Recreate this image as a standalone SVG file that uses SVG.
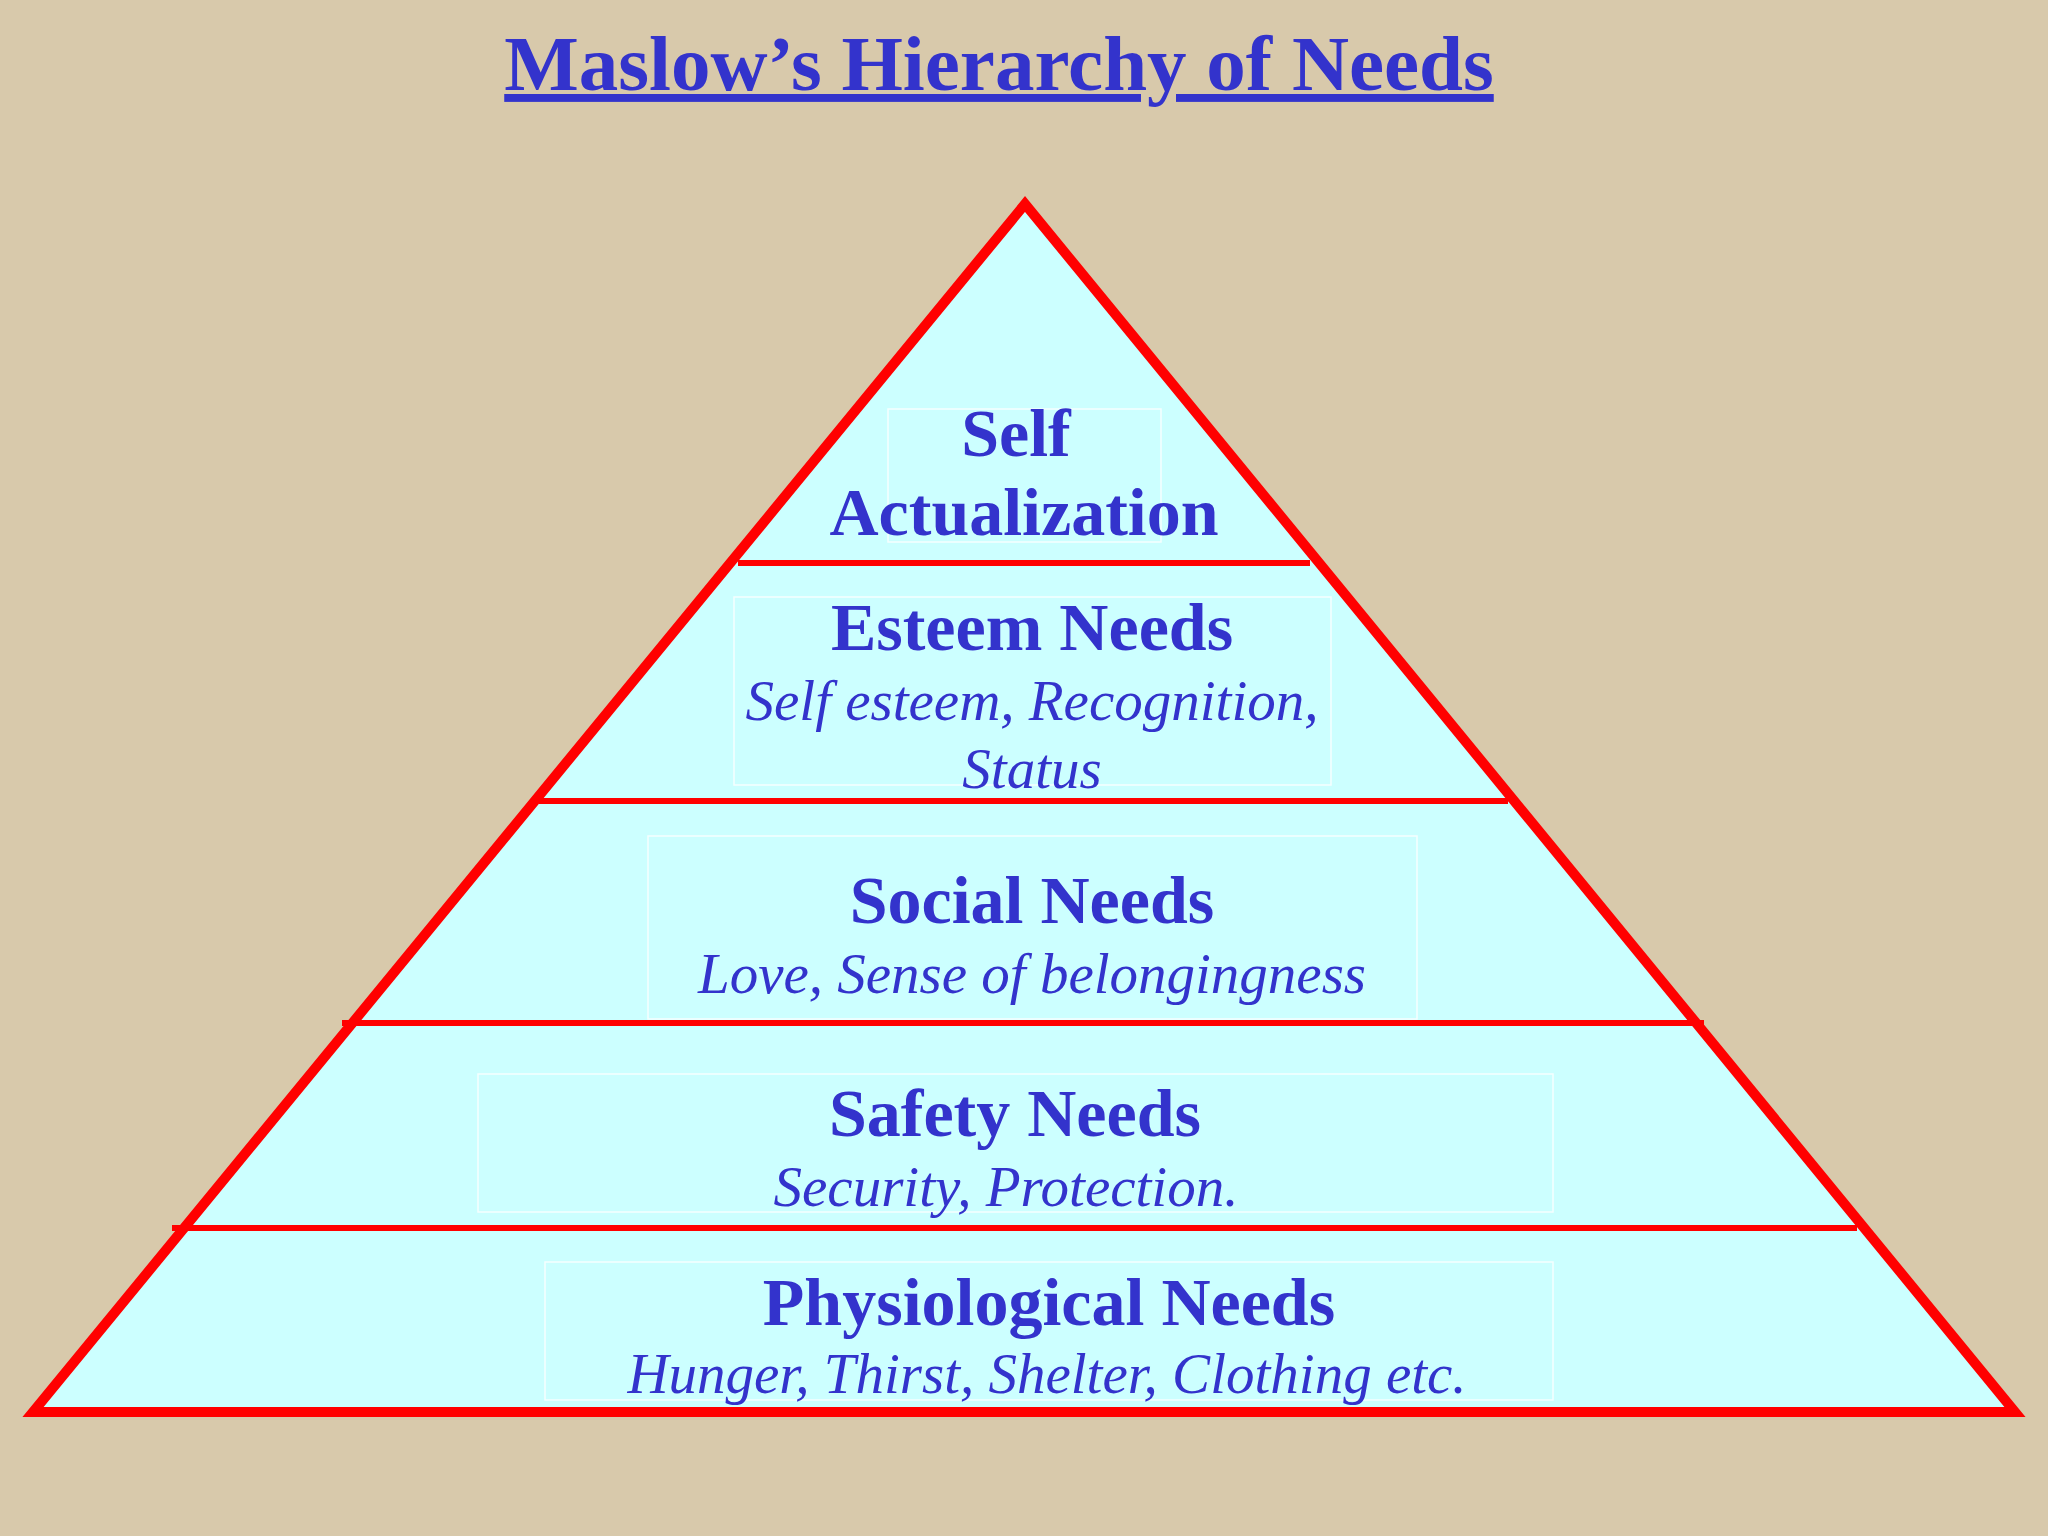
<svg xmlns="http://www.w3.org/2000/svg" width="2048" height="1536" viewBox="0 0 2048 1536">
<style>
.h{font-family:"Liberation Serif",serif;font-weight:bold;fill:#3333cc;text-anchor:middle;font-size:68px}
.s{font-family:"Liberation Serif",serif;font-style:italic;fill:#3333cc;text-anchor:middle;font-size:57px}
.b{fill:none;stroke:#ffffff;stroke-width:1.5;opacity:0.8}
.r{stroke:#ff0000;stroke-width:6}
</style>
<rect width="2048" height="1536" fill="#d8c9ab"/>
<text x="999" y="90" class="h" style="font-size:79px;text-decoration:underline">Maslow’s Hierarchy of Needs</text>
<g id="pyramid">
<polygon points="1025,204 33,1412 2015,1412" fill="#ccffff" stroke="#ff0000" stroke-width="10" stroke-linejoin="miter"/>
</g>
<g id="connectors">
<line class="r" x1="738" y1="563" x2="1310" y2="563"/>
<line class="r" x1="539" y1="801" x2="1508" y2="801"/>
<line class="r" x1="342" y1="1023" x2="1704" y2="1023"/>
<line class="r" x1="172" y1="1228" x2="1857" y2="1228"/>
</g>
<g id="self">
<rect class="b" x="888" y="409" width="273" height="133"/>
<text class="h" x="1016" y="456">Self</text>
<text class="h" x="1024" y="535">Actualization</text>
</g>
<g id="esteem">
<rect class="b" x="734" y="597" width="597" height="188"/>
<text class="h" x="1032" y="650">Esteem Needs</text>
<text class="s" x="1032" y="720">Self esteem, Recognition,</text>
<text class="s" x="1032" y="788">Status</text>
</g>
<g id="social">
<rect class="b" x="648" y="836" width="769" height="183"/>
<text class="h" x="1032" y="923">Social Needs</text>
<text class="s" x="1032" y="993">Love, Sense of belongingness</text>
</g>
<g id="safety">
<rect class="b" x="478" y="1074" width="1075" height="138"/>
<text class="h" x="1015" y="1136">Safety Needs</text>
<text class="s" x="1006" y="1206">Security, Protection.</text>
</g>
<g id="physio">
<rect class="b" x="545" y="1262" width="1008" height="138"/>
<text class="h" x="1049" y="1325">Physiological Needs</text>
<text class="s" x="1047" y="1393">Hunger, Thirst, Shelter, Clothing etc.</text>
</g>
</svg>
